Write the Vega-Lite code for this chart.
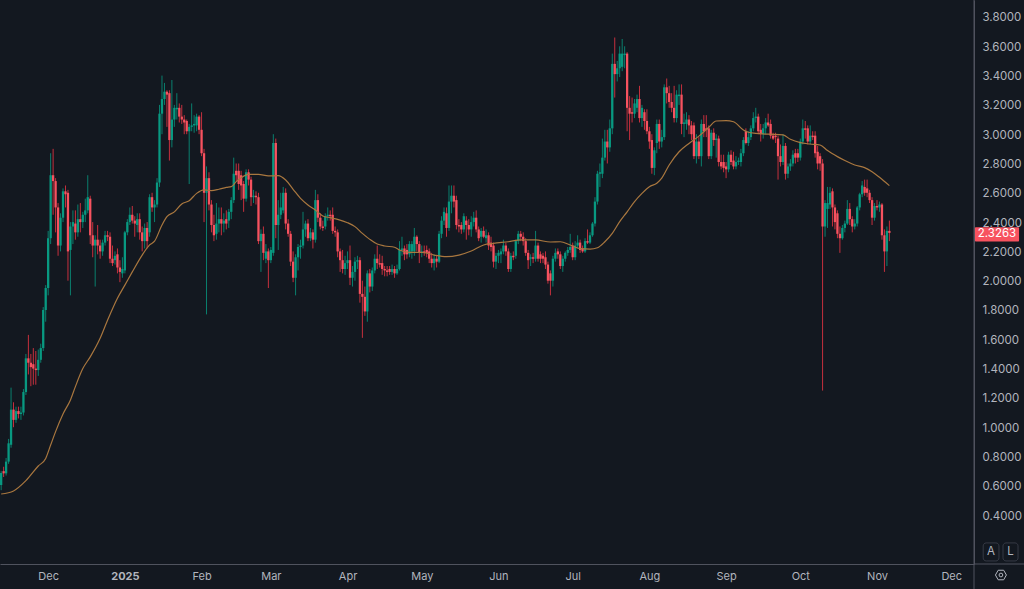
{
  "$schema": "https://vega.github.io/schema/vega-lite/v6.json",
  "width": 974,
  "height": 564,
  "padding": {"left": 0, "top": 0, "right": 50, "bottom": 25},
  "autosize": "none",
  "background": "#131820",
  "config": {"view": {"stroke": null}, "font": "Inter"},
  "datasets": {
    "candles": [
      {"d":"2024-11-12","o":0.605,"h":0.70,"l":0.57,"c":0.687},
      {"d":"2024-11-13","o":0.70,"h":0.73,"l":0.66,"c":0.685},
      {"d":"2024-11-14","o":0.685,"h":0.79,"l":0.67,"c":0.765},
      {"d":"2024-11-15","o":0.765,"h":0.92,"l":0.75,"c":0.89},
      {"d":"2024-11-16","o":0.88,"h":1.27,"l":0.86,"c":1.12},
      {"d":"2024-11-17","o":1.12,"h":1.17,"l":1.0,"c":1.05},
      {"d":"2024-11-18","o":1.05,"h":1.14,"l":1.03,"c":1.11},
      {"d":"2024-11-19","o":1.11,"h":1.14,"l":1.06,"c":1.09},
      {"d":"2024-11-20","o":1.09,"h":1.14,"l":1.05,"c":1.10},
      {"d":"2024-11-21","o":1.10,"h":1.26,"l":1.08,"c":1.24},
      {"d":"2024-11-22","o":1.24,"h":1.50,"l":1.22,"c":1.47},
      {"d":"2024-11-23","o":1.47,"h":1.63,"l":1.36,"c":1.44},
      {"d":"2024-11-24","o":1.44,"h":1.50,"l":1.28,"c":1.41},
      {"d":"2024-11-25","o":1.43,"h":1.54,"l":1.29,"c":1.40},
      {"d":"2024-11-26","o":1.40,"h":1.52,"l":1.29,"c":1.39},
      {"d":"2024-11-27","o":1.39,"h":1.53,"l":1.35,"c":1.46},
      {"d":"2024-11-28","o":1.46,"h":1.57,"l":1.44,"c":1.54},
      {"d":"2024-11-29","o":1.54,"h":1.82,"l":1.52,"c":1.80},
      {"d":"2024-11-30","o":1.80,"h":1.97,"l":1.72,"c":1.95},
      {"d":"2024-12-01","o":1.95,"h":2.34,"l":1.90,"c":2.29},
      {"d":"2024-12-02","o":2.29,"h":2.87,"l":2.25,"c":2.72},
      {"d":"2024-12-03","o":2.72,"h":2.90,"l":2.45,"c":2.68},
      {"d":"2024-12-04","o":2.68,"h":2.70,"l":2.33,"c":2.50},
      {"d":"2024-12-05","o":2.50,"h":2.53,"l":2.17,"c":2.24},
      {"d":"2024-12-06","o":2.24,"h":2.46,"l":2.2,"c":2.43},
      {"d":"2024-12-07","o":2.43,"h":2.63,"l":2.40,"c":2.61},
      {"d":"2024-12-08","o":2.61,"h":2.65,"l":2.5,"c":2.59},
      {"d":"2024-12-09","o":2.60,"h":2.62,"l":2.0,"c":2.20},
      {"d":"2024-12-10","o":2.21,"h":2.40,"l":1.90,"c":2.37},
      {"d":"2024-12-11","o":2.37,"h":2.48,"l":2.25,"c":2.40},
      {"d":"2024-12-12","o":2.39,"h":2.48,"l":2.28,"c":2.33},
      {"d":"2024-12-13","o":2.33,"h":2.52,"l":2.30,"c":2.42},
      {"d":"2024-12-14","o":2.42,"h":2.53,"l":2.33,"c":2.40},
      {"d":"2024-12-15","o":2.40,"h":2.47,"l":2.36,"c":2.45},
      {"d":"2024-12-16","o":2.45,"h":2.56,"l":2.40,"c":2.48},
      {"d":"2024-12-17","o":2.48,"h":2.72,"l":2.46,"c":2.57},
      {"d":"2024-12-18","o":2.56,"h":2.58,"l":2.25,"c":2.31},
      {"d":"2024-12-19","o":2.31,"h":2.40,"l":2.16,"c":2.24},
      {"d":"2024-12-20","o":2.24,"h":2.31,"l":1.96,"c":2.28},
      {"d":"2024-12-21","o":2.28,"h":2.38,"l":2.18,"c":2.24},
      {"d":"2024-12-22","o":2.24,"h":2.28,"l":2.15,"c":2.20},
      {"d":"2024-12-23","o":2.20,"h":2.28,"l":2.17,"c":2.26},
      {"d":"2024-12-24","o":2.26,"h":2.34,"l":2.24,"c":2.31},
      {"d":"2024-12-25","o":2.31,"h":2.34,"l":2.27,"c":2.30},
      {"d":"2024-12-26","o":2.30,"h":2.33,"l":2.12,"c":2.15},
      {"d":"2024-12-27","o":2.15,"h":2.24,"l":2.10,"c":2.12},
      {"d":"2024-12-28","o":2.14,"h":2.20,"l":2.11,"c":2.17},
      {"d":"2024-12-29","o":2.18,"h":2.22,"l":2.05,"c":2.09},
      {"d":"2024-12-30","o":2.09,"h":2.14,"l":1.99,"c":2.06},
      {"d":"2024-12-31","o":2.05,"h":2.16,"l":2.02,"c":2.08},
      {"d":"2025-01-01","o":2.07,"h":2.34,"l":2.05,"c":2.33},
      {"d":"2025-01-02","o":2.33,"h":2.42,"l":2.31,"c":2.40},
      {"d":"2025-01-03","o":2.40,"h":2.50,"l":2.38,"c":2.45},
      {"d":"2025-01-04","o":2.45,"h":2.51,"l":2.39,"c":2.41},
      {"d":"2025-01-05","o":2.41,"h":2.44,"l":2.30,"c":2.39},
      {"d":"2025-01-06","o":2.38,"h":2.46,"l":2.33,"c":2.42},
      {"d":"2025-01-07","o":2.42,"h":2.46,"l":2.28,"c":2.33},
      {"d":"2025-01-08","o":2.33,"h":2.37,"l":2.20,"c":2.27},
      {"d":"2025-01-09","o":2.27,"h":2.39,"l":2.22,"c":2.36},
      {"d":"2025-01-10","o":2.36,"h":2.40,"l":2.22,"c":2.27},
      {"d":"2025-01-11","o":2.33,"h":2.59,"l":2.30,"c":2.57},
      {"d":"2025-01-12","o":2.57,"h":2.60,"l":2.47,"c":2.50},
      {"d":"2025-01-13","o":2.50,"h":2.55,"l":2.40,"c":2.52},
      {"d":"2025-01-14","o":2.52,"h":2.70,"l":2.50,"c":2.67},
      {"d":"2025-01-15","o":2.67,"h":3.2,"l":2.64,"c":3.14},
      {"d":"2025-01-16","o":3.14,"h":3.40,"l":3.0,"c":3.24},
      {"d":"2025-01-17","o":3.24,"h":3.35,"l":3.2,"c":3.29},
      {"d":"2025-01-18","o":3.29,"h":3.30,"l":3.05,"c":3.27},
      {"d":"2025-01-19","o":3.28,"h":3.30,"l":2.82,"c":2.96},
      {"d":"2025-01-20","o":2.96,"h":3.37,"l":2.91,"c":3.10},
      {"d":"2025-01-21","o":3.10,"h":3.20,"l":3.05,"c":3.18},
      {"d":"2025-01-22","o":3.17,"h":3.28,"l":3.1,"c":3.18},
      {"d":"2025-01-23","o":3.18,"h":3.21,"l":3.08,"c":3.12},
      {"d":"2025-01-24","o":3.12,"h":3.2,"l":3.07,"c":3.10},
      {"d":"2025-01-25","o":3.10,"h":3.13,"l":3.0,"c":3.08},
      {"d":"2025-01-26","o":3.09,"h":3.10,"l":3.0,"c":3.02},
      {"d":"2025-01-27","o":3.02,"h":3.07,"l":2.66,"c":3.05},
      {"d":"2025-01-28","o":3.05,"h":3.21,"l":3.02,"c":3.06},
      {"d":"2025-01-29","o":3.06,"h":3.13,"l":3.01,"c":3.07},
      {"d":"2025-01-30","o":3.06,"h":3.14,"l":3.02,"c":3.12},
      {"d":"2025-01-31","o":3.12,"h":3.13,"l":3.0,"c":3.03},
      {"d":"2025-02-01","o":3.03,"h":3.15,"l":2.85,"c":2.87},
      {"d":"2025-02-02","o":2.87,"h":2.90,"l":2.40,"c":2.60},
      {"d":"2025-02-03","o":2.60,"h":2.78,"l":1.77,"c":2.70},
      {"d":"2025-02-04","o":2.70,"h":2.74,"l":2.48,"c":2.52},
      {"d":"2025-02-05","o":2.52,"h":2.55,"l":2.33,"c":2.38},
      {"d":"2025-02-06","o":2.38,"h":2.45,"l":2.27,"c":2.31},
      {"d":"2025-02-07","o":2.32,"h":2.53,"l":2.28,"c":2.39},
      {"d":"2025-02-08","o":2.39,"h":2.50,"l":2.33,"c":2.42},
      {"d":"2025-02-09","o":2.42,"h":2.50,"l":2.31,"c":2.39},
      {"d":"2025-02-10","o":2.39,"h":2.46,"l":2.33,"c":2.41},
      {"d":"2025-02-11","o":2.42,"h":2.48,"l":2.35,"c":2.39},
      {"d":"2025-02-12","o":2.41,"h":2.49,"l":2.36,"c":2.47},
      {"d":"2025-02-13","o":2.47,"h":2.57,"l":2.42,"c":2.55},
      {"d":"2025-02-14","o":2.55,"h":2.84,"l":2.53,"c":2.73},
      {"d":"2025-02-15","o":2.75,"h":2.80,"l":2.68,"c":2.72},
      {"d":"2025-02-16","o":2.75,"h":2.80,"l":2.62,"c":2.66},
      {"d":"2025-02-17","o":2.72,"h":2.75,"l":2.55,"c":2.65},
      {"d":"2025-02-18","o":2.66,"h":2.68,"l":2.47,"c":2.56},
      {"d":"2025-02-19","o":2.56,"h":2.76,"l":2.54,"c":2.74},
      {"d":"2025-02-20","o":2.74,"h":2.76,"l":2.65,"c":2.69},
      {"d":"2025-02-21","o":2.69,"h":2.71,"l":2.51,"c":2.57},
      {"d":"2025-02-22","o":2.57,"h":2.62,"l":2.53,"c":2.58},
      {"d":"2025-02-23","o":2.58,"h":2.61,"l":2.52,"c":2.57},
      {"d":"2025-02-24","o":2.57,"h":2.60,"l":2.25,"c":2.27},
      {"d":"2025-02-25","o":2.27,"h":2.35,"l":2.06,"c":2.32},
      {"d":"2025-02-26","o":2.32,"h":2.37,"l":2.14,"c":2.19},
      {"d":"2025-02-27","o":2.15,"h":2.25,"l":2.12,"c":2.20},
      {"d":"2025-02-28","o":2.20,"h":2.22,"l":1.95,"c":2.14},
      {"d":"2025-03-01","o":2.14,"h":2.23,"l":2.12,"c":2.21},
      {"d":"2025-03-02","o":2.19,"h":3.0,"l":2.17,"c":2.94},
      {"d":"2025-03-03","o":2.94,"h":2.97,"l":2.29,"c":2.38},
      {"d":"2025-03-04","o":2.38,"h":2.55,"l":2.21,"c":2.45},
      {"d":"2025-03-05","o":2.45,"h":2.60,"l":2.42,"c":2.50},
      {"d":"2025-03-06","o":2.48,"h":2.64,"l":2.46,"c":2.60},
      {"d":"2025-03-07","o":2.60,"h":2.63,"l":2.35,"c":2.39},
      {"d":"2025-03-08","o":2.39,"h":2.42,"l":2.30,"c":2.32},
      {"d":"2025-03-09","o":2.32,"h":2.34,"l":2.10,"c":2.13},
      {"d":"2025-03-10","o":2.13,"h":2.2,"l":1.99,"c":2.02},
      {"d":"2025-03-11","o":2.02,"h":2.18,"l":1.90,"c":2.16},
      {"d":"2025-03-12","o":2.16,"h":2.25,"l":2.07,"c":2.23},
      {"d":"2025-03-13","o":2.23,"h":2.28,"l":2.15,"c":2.24},
      {"d":"2025-03-14","o":2.24,"h":2.47,"l":2.22,"c":2.35},
      {"d":"2025-03-15","o":2.35,"h":2.41,"l":2.30,"c":2.39},
      {"d":"2025-03-16","o":2.39,"h":2.42,"l":2.27,"c":2.29},
      {"d":"2025-03-17","o":2.29,"h":2.36,"l":2.27,"c":2.33},
      {"d":"2025-03-18","o":2.33,"h":2.35,"l":2.22,"c":2.28},
      {"d":"2025-03-19","o":2.28,"h":2.62,"l":2.26,"c":2.55},
      {"d":"2025-03-20","o":2.55,"h":2.59,"l":2.40,"c":2.43},
      {"d":"2025-03-21","o":2.43,"h":2.46,"l":2.35,"c":2.37},
      {"d":"2025-03-22","o":2.37,"h":2.41,"l":2.34,"c":2.36},
      {"d":"2025-03-23","o":2.37,"h":2.46,"l":2.35,"c":2.44},
      {"d":"2025-03-24","o":2.44,"h":2.50,"l":2.41,"c":2.45},
      {"d":"2025-03-25","o":2.45,"h":2.48,"l":2.41,"c":2.44},
      {"d":"2025-03-26","o":2.45,"h":2.50,"l":2.32,"c":2.34},
      {"d":"2025-03-27","o":2.34,"h":2.37,"l":2.30,"c":2.33},
      {"d":"2025-03-28","o":2.33,"h":2.35,"l":2.16,"c":2.20},
      {"d":"2025-03-29","o":2.20,"h":2.22,"l":2.06,"c":2.14},
      {"d":"2025-03-30","o":2.14,"h":2.21,"l":2.05,"c":2.08},
      {"d":"2025-03-31","o":2.08,"h":2.17,"l":2.04,"c":2.12},
      {"d":"2025-04-01","o":2.12,"h":2.2,"l":2.08,"c":2.14},
      {"d":"2025-04-02","o":2.14,"h":2.24,"l":1.97,"c":2.02},
      {"d":"2025-04-03","o":2.02,"h":2.10,"l":1.96,"c":2.06},
      {"d":"2025-04-04","o":2.06,"h":2.16,"l":2.0,"c":2.13},
      {"d":"2025-04-05","o":2.13,"h":2.17,"l":2.08,"c":2.14},
      {"d":"2025-04-06","o":2.14,"h":2.16,"l":1.85,"c":1.91},
      {"d":"2025-04-07","o":1.91,"h":2.0,"l":1.61,"c":1.89},
      {"d":"2025-04-08","o":1.89,"h":1.96,"l":1.76,"c":1.79},
      {"d":"2025-04-09","o":1.79,"h":2.07,"l":1.72,"c":2.05},
      {"d":"2025-04-10","o":2.05,"h":2.08,"l":1.92,"c":1.96},
      {"d":"2025-04-11","o":1.96,"h":2.09,"l":1.93,"c":2.07},
      {"d":"2025-04-12","o":2.07,"h":2.18,"l":2.05,"c":2.15},
      {"d":"2025-04-13","o":2.15,"h":2.24,"l":2.08,"c":2.12},
      {"d":"2025-04-14","o":2.12,"h":2.18,"l":2.09,"c":2.11},
      {"d":"2025-04-15","o":2.12,"h":2.17,"l":2.04,"c":2.08},
      {"d":"2025-04-16","o":2.08,"h":2.10,"l":2.03,"c":2.07},
      {"d":"2025-04-17","o":2.07,"h":2.10,"l":2.03,"c":2.06},
      {"d":"2025-04-18","o":2.08,"h":2.10,"l":2.04,"c":2.06},
      {"d":"2025-04-19","o":2.06,"h":2.11,"l":2.04,"c":2.08},
      {"d":"2025-04-20","o":2.08,"h":2.10,"l":2.02,"c":2.05},
      {"d":"2025-04-21","o":2.05,"h":2.11,"l":2.04,"c":2.08},
      {"d":"2025-04-22","o":2.08,"h":2.27,"l":2.07,"c":2.21},
      {"d":"2025-04-23","o":2.21,"h":2.30,"l":2.17,"c":2.22},
      {"d":"2025-04-24","o":2.22,"h":2.24,"l":2.14,"c":2.18},
      {"d":"2025-04-25","o":2.21,"h":2.25,"l":2.15,"c":2.18},
      {"d":"2025-04-26","o":2.18,"h":2.27,"l":2.16,"c":2.25},
      {"d":"2025-04-27","o":2.20,"h":2.27,"l":2.15,"c":2.25},
      {"d":"2025-04-28","o":2.20,"h":2.36,"l":2.17,"c":2.30},
      {"d":"2025-04-29","o":2.30,"h":2.31,"l":2.20,"c":2.25},
      {"d":"2025-04-30","o":2.25,"h":2.27,"l":2.12,"c":2.19},
      {"d":"2025-05-01","o":2.19,"h":2.24,"l":2.16,"c":2.20},
      {"d":"2025-05-02","o":2.20,"h":2.24,"l":2.17,"c":2.19},
      {"d":"2025-05-03","o":2.21,"h":2.24,"l":2.16,"c":2.19},
      {"d":"2025-05-04","o":2.20,"h":2.22,"l":2.12,"c":2.15},
      {"d":"2025-05-05","o":2.15,"h":2.19,"l":2.09,"c":2.12},
      {"d":"2025-05-06","o":2.12,"h":2.18,"l":2.07,"c":2.15},
      {"d":"2025-05-07","o":2.15,"h":2.17,"l":2.09,"c":2.13},
      {"d":"2025-05-08","o":2.13,"h":2.34,"l":2.12,"c":2.32},
      {"d":"2025-05-09","o":2.32,"h":2.44,"l":2.29,"c":2.41},
      {"d":"2025-05-10","o":2.41,"h":2.50,"l":2.38,"c":2.47},
      {"d":"2025-05-11","o":2.46,"h":2.50,"l":2.30,"c":2.36},
      {"d":"2025-05-12","o":2.36,"h":2.65,"l":2.34,"c":2.54},
      {"d":"2025-05-13","o":2.54,"h":2.65,"l":2.46,"c":2.58},
      {"d":"2025-05-14","o":2.58,"h":2.65,"l":2.50,"c":2.54},
      {"d":"2025-05-15","o":2.55,"h":2.58,"l":2.35,"c":2.38},
      {"d":"2025-05-16","o":2.38,"h":2.42,"l":2.33,"c":2.37},
      {"d":"2025-05-17","o":2.38,"h":2.40,"l":2.32,"c":2.35},
      {"d":"2025-05-18","o":2.35,"h":2.46,"l":2.33,"c":2.44},
      {"d":"2025-05-19","o":2.41,"h":2.44,"l":2.28,"c":2.38},
      {"d":"2025-05-20","o":2.38,"h":2.42,"l":2.31,"c":2.35},
      {"d":"2025-05-21","o":2.35,"h":2.44,"l":2.30,"c":2.40},
      {"d":"2025-05-22","o":2.40,"h":2.47,"l":2.37,"c":2.43},
      {"d":"2025-05-23","o":2.43,"h":2.48,"l":2.33,"c":2.35},
      {"d":"2025-05-24","o":2.35,"h":2.37,"l":2.27,"c":2.29},
      {"d":"2025-05-25","o":2.30,"h":2.36,"l":2.26,"c":2.34},
      {"d":"2025-05-26","o":2.34,"h":2.37,"l":2.29,"c":2.30},
      {"d":"2025-05-27","o":2.29,"h":2.35,"l":2.26,"c":2.31},
      {"d":"2025-05-28","o":2.31,"h":2.33,"l":2.21,"c":2.24},
      {"d":"2025-05-29","o":2.26,"h":2.30,"l":2.20,"c":2.23},
      {"d":"2025-05-30","o":2.24,"h":2.26,"l":2.09,"c":2.13},
      {"d":"2025-05-31","o":2.13,"h":2.19,"l":2.08,"c":2.17},
      {"d":"2025-06-01","o":2.17,"h":2.21,"l":2.12,"c":2.19},
      {"d":"2025-06-02","o":2.18,"h":2.22,"l":2.12,"c":2.20},
      {"d":"2025-06-03","o":2.20,"h":2.28,"l":2.18,"c":2.24},
      {"d":"2025-06-04","o":2.24,"h":2.26,"l":2.17,"c":2.20},
      {"d":"2025-06-05","o":2.20,"h":2.22,"l":2.06,"c":2.08},
      {"d":"2025-06-06","o":2.08,"h":2.19,"l":2.06,"c":2.17},
      {"d":"2025-06-07","o":2.17,"h":2.20,"l":2.14,"c":2.16},
      {"d":"2025-06-08","o":2.17,"h":2.28,"l":2.15,"c":2.27},
      {"d":"2025-06-09","o":2.27,"h":2.34,"l":2.25,"c":2.32},
      {"d":"2025-06-10","o":2.32,"h":2.34,"l":2.27,"c":2.30},
      {"d":"2025-06-11","o":2.30,"h":2.33,"l":2.24,"c":2.27},
      {"d":"2025-06-12","o":2.27,"h":2.29,"l":2.17,"c":2.19},
      {"d":"2025-06-13","o":2.19,"h":2.21,"l":2.08,"c":2.14},
      {"d":"2025-06-14","o":2.15,"h":2.18,"l":2.10,"c":2.16},
      {"d":"2025-06-15","o":2.16,"h":2.19,"l":2.12,"c":2.15},
      {"d":"2025-06-16","o":2.15,"h":2.34,"l":2.13,"c":2.24},
      {"d":"2025-06-17","o":2.24,"h":2.26,"l":2.13,"c":2.15},
      {"d":"2025-06-18","o":2.18,"h":2.20,"l":2.12,"c":2.15},
      {"d":"2025-06-19","o":2.17,"h":2.19,"l":2.12,"c":2.15},
      {"d":"2025-06-20","o":2.16,"h":2.20,"l":2.08,"c":2.11},
      {"d":"2025-06-21","o":2.11,"h":2.13,"l":1.98,"c":2.0},
      {"d":"2025-06-22","o":2.05,"h":2.07,"l":1.90,"c":2.0},
      {"d":"2025-06-23","o":2.0,"h":2.17,"l":1.96,"c":2.15},
      {"d":"2025-06-24","o":2.15,"h":2.22,"l":2.13,"c":2.19},
      {"d":"2025-06-25","o":2.20,"h":2.22,"l":2.15,"c":2.18},
      {"d":"2025-06-26","o":2.18,"h":2.20,"l":2.08,"c":2.10},
      {"d":"2025-06-27","o":2.10,"h":2.17,"l":2.06,"c":2.15},
      {"d":"2025-06-28","o":2.15,"h":2.20,"l":2.13,"c":2.19},
      {"d":"2025-06-29","o":2.19,"h":2.23,"l":2.17,"c":2.21},
      {"d":"2025-06-30","o":2.21,"h":2.32,"l":2.19,"c":2.23},
      {"d":"2025-07-01","o":2.24,"h":2.26,"l":2.14,"c":2.16},
      {"d":"2025-07-02","o":2.16,"h":2.27,"l":2.14,"c":2.24},
      {"d":"2025-07-03","o":2.24,"h":2.31,"l":2.22,"c":2.26},
      {"d":"2025-07-04","o":2.26,"h":2.28,"l":2.19,"c":2.21},
      {"d":"2025-07-05","o":2.22,"h":2.24,"l":2.19,"c":2.20},
      {"d":"2025-07-06","o":2.20,"h":2.29,"l":2.19,"c":2.27},
      {"d":"2025-07-07","o":2.27,"h":2.35,"l":2.25,"c":2.26},
      {"d":"2025-07-08","o":2.26,"h":2.33,"l":2.25,"c":2.31},
      {"d":"2025-07-09","o":2.31,"h":2.40,"l":2.30,"c":2.39},
      {"d":"2025-07-10","o":2.39,"h":2.57,"l":2.37,"c":2.54},
      {"d":"2025-07-11","o":2.54,"h":2.75,"l":2.52,"c":2.73},
      {"d":"2025-07-12","o":2.73,"h":2.80,"l":2.64,"c":2.74},
      {"d":"2025-07-13","o":2.73,"h":2.97,"l":2.70,"c":2.84},
      {"d":"2025-07-14","o":2.84,"h":3.03,"l":2.82,"c":2.95},
      {"d":"2025-07-15","o":2.95,"h":3.03,"l":2.80,"c":2.91},
      {"d":"2025-07-16","o":2.91,"h":3.10,"l":2.88,"c":3.04},
      {"d":"2025-07-17","o":3.04,"h":3.55,"l":3.0,"c":3.48},
      {"d":"2025-07-18","o":3.48,"h":3.66,"l":3.25,"c":3.41},
      {"d":"2025-07-19","o":3.41,"h":3.50,"l":3.36,"c":3.45},
      {"d":"2025-07-20","o":3.45,"h":3.60,"l":3.39,"c":3.55},
      {"d":"2025-07-21","o":3.46,"h":3.65,"l":3.43,"c":3.55},
      {"d":"2025-07-22","o":3.54,"h":3.60,"l":3.45,"c":3.55},
      {"d":"2025-07-23","o":3.55,"h":3.56,"l":3.02,"c":3.18},
      {"d":"2025-07-24","o":3.18,"h":3.26,"l":2.96,"c":3.14},
      {"d":"2025-07-25","o":3.15,"h":3.25,"l":3.08,"c":3.14},
      {"d":"2025-07-26","o":3.14,"h":3.24,"l":3.11,"c":3.21},
      {"d":"2025-07-27","o":3.18,"h":3.27,"l":3.15,"c":3.24},
      {"d":"2025-07-28","o":3.24,"h":3.33,"l":3.08,"c":3.11},
      {"d":"2025-07-29","o":3.11,"h":3.20,"l":3.05,"c":3.18},
      {"d":"2025-07-30","o":3.15,"h":3.17,"l":3.03,"c":3.09},
      {"d":"2025-07-31","o":3.09,"h":3.17,"l":3.0,"c":3.02},
      {"d":"2025-08-01","o":3.02,"h":3.05,"l":2.90,"c":2.95},
      {"d":"2025-08-02","o":2.96,"h":3.0,"l":2.73,"c":2.77},
      {"d":"2025-08-03","o":2.77,"h":2.91,"l":2.72,"c":2.89},
      {"d":"2025-08-04","o":2.94,"h":3.10,"l":2.87,"c":3.07},
      {"d":"2025-08-05","o":3.07,"h":3.10,"l":2.90,"c":2.95},
      {"d":"2025-08-06","o":2.95,"h":3.03,"l":2.91,"c":2.98},
      {"d":"2025-08-07","o":2.98,"h":3.34,"l":2.96,"c":3.32},
      {"d":"2025-08-08","o":3.32,"h":3.38,"l":3.21,"c":3.28},
      {"d":"2025-08-09","o":3.28,"h":3.33,"l":3.18,"c":3.22},
      {"d":"2025-08-10","o":3.22,"h":3.28,"l":3.15,"c":3.18},
      {"d":"2025-08-11","o":3.18,"h":3.33,"l":3.08,"c":3.11},
      {"d":"2025-08-12","o":3.11,"h":3.30,"l":3.08,"c":3.27},
      {"d":"2025-08-13","o":3.26,"h":3.34,"l":3.20,"c":3.27},
      {"d":"2025-08-14","o":3.27,"h":3.34,"l":3.0,"c":3.07},
      {"d":"2025-08-15","o":3.07,"h":3.14,"l":2.98,"c":3.08},
      {"d":"2025-08-16","o":3.07,"h":3.15,"l":3.03,"c":3.10},
      {"d":"2025-08-17","o":3.10,"h":3.13,"l":3.0,"c":3.06},
      {"d":"2025-08-18","o":3.06,"h":3.09,"l":2.96,"c":3.0},
      {"d":"2025-08-19","o":3.06,"h":3.08,"l":2.83,"c":2.85},
      {"d":"2025-08-20","o":2.85,"h":3.0,"l":2.80,"c":2.95},
      {"d":"2025-08-21","o":2.95,"h":2.98,"l":2.83,"c":2.85},
      {"d":"2025-08-22","o":2.85,"h":3.10,"l":2.78,"c":3.07},
      {"d":"2025-08-23","o":3.07,"h":3.13,"l":2.98,"c":3.02},
      {"d":"2025-08-24","o":3.04,"h":3.13,"l":2.98,"c":3.03},
      {"d":"2025-08-25","o":3.04,"h":3.06,"l":2.83,"c":2.85},
      {"d":"2025-08-26","o":2.85,"h":3.03,"l":2.83,"c":3.01},
      {"d":"2025-08-27","o":3.01,"h":3.04,"l":2.92,"c":2.96},
      {"d":"2025-08-28","o":2.96,"h":3.0,"l":2.84,"c":2.97},
      {"d":"2025-08-29","o":2.97,"h":2.99,"l":2.78,"c":2.81},
      {"d":"2025-08-30","o":2.81,"h":2.86,"l":2.76,"c":2.78},
      {"d":"2025-08-31","o":2.81,"h":2.86,"l":2.74,"c":2.77},
      {"d":"2025-09-01","o":2.78,"h":2.81,"l":2.70,"c":2.76},
      {"d":"2025-09-02","o":2.76,"h":2.88,"l":2.74,"c":2.86},
      {"d":"2025-09-03","o":2.86,"h":2.89,"l":2.79,"c":2.81},
      {"d":"2025-09-04","o":2.82,"h":2.88,"l":2.76,"c":2.78},
      {"d":"2025-09-05","o":2.78,"h":2.85,"l":2.76,"c":2.81},
      {"d":"2025-09-06","o":2.81,"h":2.84,"l":2.79,"c":2.82},
      {"d":"2025-09-07","o":2.81,"h":2.90,"l":2.78,"c":2.87},
      {"d":"2025-09-08","o":2.87,"h":2.98,"l":2.85,"c":2.96},
      {"d":"2025-09-09","o":3.02,"h":3.04,"l":2.93,"c":2.94},
      {"d":"2025-09-10","o":2.94,"h":3.02,"l":2.92,"c":2.98},
      {"d":"2025-09-11","o":2.98,"h":3.06,"l":2.96,"c":3.04},
      {"d":"2025-09-12","o":3.04,"h":3.15,"l":3.02,"c":3.11},
      {"d":"2025-09-13","o":3.11,"h":3.18,"l":3.08,"c":3.12},
      {"d":"2025-09-14","o":3.12,"h":3.14,"l":3.0,"c":3.02},
      {"d":"2025-09-15","o":3.03,"h":3.07,"l":2.95,"c":3.0},
      {"d":"2025-09-16","o":3.0,"h":3.07,"l":2.97,"c":3.04},
      {"d":"2025-09-17","o":3.04,"h":3.11,"l":3.0,"c":3.08},
      {"d":"2025-09-18","o":3.08,"h":3.14,"l":3.05,"c":3.06},
      {"d":"2025-09-19","o":3.07,"h":3.10,"l":2.97,"c":2.99},
      {"d":"2025-09-20","o":2.99,"h":3.01,"l":2.96,"c":2.97},
      {"d":"2025-09-21","o":2.99,"h":3.01,"l":2.94,"c":2.98},
      {"d":"2025-09-22","o":2.97,"h":2.99,"l":2.69,"c":2.85},
      {"d":"2025-09-23","o":2.85,"h":2.93,"l":2.78,"c":2.81},
      {"d":"2025-09-24","o":2.81,"h":3.0,"l":2.79,"c":2.92},
      {"d":"2025-09-25","o":2.92,"h":2.94,"l":2.69,"c":2.73},
      {"d":"2025-09-26","o":2.73,"h":2.80,"l":2.70,"c":2.78},
      {"d":"2025-09-27","o":2.78,"h":2.83,"l":2.75,"c":2.80},
      {"d":"2025-09-28","o":2.80,"h":2.89,"l":2.78,"c":2.86},
      {"d":"2025-09-29","o":2.87,"h":2.90,"l":2.80,"c":2.84},
      {"d":"2025-09-30","o":2.87,"h":2.90,"l":2.81,"c":2.84},
      {"d":"2025-10-01","o":2.84,"h":2.97,"l":2.82,"c":2.95},
      {"d":"2025-10-02","o":2.95,"h":3.10,"l":2.93,"c":3.04},
      {"d":"2025-10-03","o":3.04,"h":3.09,"l":2.97,"c":3.03},
      {"d":"2025-10-04","o":3.04,"h":3.06,"l":2.93,"c":2.95},
      {"d":"2025-10-05","o":2.95,"h":3.06,"l":2.93,"c":2.99},
      {"d":"2025-10-06","o":2.99,"h":3.02,"l":2.96,"c":2.98},
      {"d":"2025-10-07","o":2.99,"h":3.02,"l":2.84,"c":2.87},
      {"d":"2025-10-08","o":2.88,"h":2.92,"l":2.76,"c":2.80},
      {"d":"2025-10-09","o":2.85,"h":2.87,"l":2.75,"c":2.80},
      {"d":"2025-10-10","o":2.80,"h":2.83,"l":1.25,"c":2.37},
      {"d":"2025-10-11","o":2.37,"h":2.55,"l":2.30,"c":2.53},
      {"d":"2025-10-12","o":2.49,"h":2.64,"l":2.36,"c":2.53},
      {"d":"2025-10-13","o":2.52,"h":2.64,"l":2.49,"c":2.60},
      {"d":"2025-10-14","o":2.61,"h":2.63,"l":2.37,"c":2.50},
      {"d":"2025-10-15","o":2.50,"h":2.52,"l":2.35,"c":2.40},
      {"d":"2025-10-16","o":2.46,"h":2.48,"l":2.29,"c":2.32},
      {"d":"2025-10-17","o":2.32,"h":2.37,"l":2.19,"c":2.29},
      {"d":"2025-10-18","o":2.29,"h":2.38,"l":2.28,"c":2.36},
      {"d":"2025-10-19","o":2.36,"h":2.41,"l":2.33,"c":2.39},
      {"d":"2025-10-20","o":2.39,"h":2.55,"l":2.38,"c":2.49},
      {"d":"2025-10-21","o":2.49,"h":2.53,"l":2.38,"c":2.42},
      {"d":"2025-10-22","o":2.42,"h":2.44,"l":2.33,"c":2.37},
      {"d":"2025-10-23","o":2.37,"h":2.42,"l":2.35,"c":2.39},
      {"d":"2025-10-24","o":2.39,"h":2.51,"l":2.37,"c":2.50},
      {"d":"2025-10-25","o":2.50,"h":2.60,"l":2.48,"c":2.59},
      {"d":"2025-10-26","o":2.59,"h":2.68,"l":2.57,"c":2.65},
      {"d":"2025-10-27","o":2.64,"h":2.69,"l":2.58,"c":2.60},
      {"d":"2025-10-28","o":2.63,"h":2.69,"l":2.57,"c":2.60},
      {"d":"2025-10-29","o":2.60,"h":2.62,"l":2.53,"c":2.55},
      {"d":"2025-10-30","o":2.55,"h":2.57,"l":2.38,"c":2.43},
      {"d":"2025-10-31","o":2.43,"h":2.53,"l":2.41,"c":2.51},
      {"d":"2025-11-01","o":2.51,"h":2.55,"l":2.48,"c":2.50},
      {"d":"2025-11-02","o":2.50,"h":2.54,"l":2.47,"c":2.52},
      {"d":"2025-11-03","o":2.52,"h":2.53,"l":2.28,"c":2.31},
      {"d":"2025-11-04","o":2.31,"h":2.35,"l":2.06,"c":2.20},
      {"d":"2025-11-05","o":2.20,"h":2.37,"l":2.10,"c":2.34},
      {"d":"2025-11-06","o":2.34,"h":2.41,"l":2.27,"c":2.3263}
    ],
    "ma": [
      {"d":"2024-11-12","m":0.544},{"d":"2024-11-17","m":0.565},{"d":"2024-11-22","m":0.635},{"d":"2024-11-27","m":0.735},
      {"d":"2024-11-30","m":0.787},{"d":"2024-12-02","m":0.878},{"d":"2024-12-04","m":0.97},{"d":"2024-12-07","m":1.09},
      {"d":"2024-12-10","m":1.186},{"d":"2024-12-12","m":1.277},{"d":"2024-12-15","m":1.40},{"d":"2024-12-18","m":1.48},
      {"d":"2024-12-22","m":1.607},{"d":"2024-12-25","m":1.73},{"d":"2024-12-29","m":1.88},{"d":"2025-01-01","m":1.97},
      {"d":"2025-01-04","m":2.06},{"d":"2025-01-08","m":2.175},{"d":"2025-01-11","m":2.244},{"d":"2025-01-13","m":2.27},
      {"d":"2025-01-16","m":2.38},{"d":"2025-01-18","m":2.437},{"d":"2025-01-21","m":2.47},{"d":"2025-01-24","m":2.524},
      {"d":"2025-01-27","m":2.546},{"d":"2025-01-30","m":2.596},{"d":"2025-02-02","m":2.62},{"d":"2025-02-05","m":2.615},
      {"d":"2025-02-08","m":2.624},{"d":"2025-02-11","m":2.637},{"d":"2025-02-13","m":2.642},{"d":"2025-02-15","m":2.676},
      {"d":"2025-02-17","m":2.703},{"d":"2025-02-20","m":2.726},{"d":"2025-02-24","m":2.726},{"d":"2025-02-28","m":2.715},
      {"d":"2025-03-04","m":2.717},{"d":"2025-03-07","m":2.687},{"d":"2025-03-10","m":2.624},{"d":"2025-03-13","m":2.562},
      {"d":"2025-03-16","m":2.517},{"d":"2025-03-19","m":2.483},{"d":"2025-03-22","m":2.442},{"d":"2025-03-25","m":2.43},
      {"d":"2025-03-28","m":2.419},{"d":"2025-04-01","m":2.396},{"d":"2025-04-04","m":2.369},{"d":"2025-04-07","m":2.323},
      {"d":"2025-04-10","m":2.282},{"d":"2025-04-13","m":2.25},{"d":"2025-04-16","m":2.237},{"d":"2025-04-20","m":2.228},
      {"d":"2025-04-22","m":2.21},{"d":"2025-04-26","m":2.194},{"d":"2025-05-01","m":2.194},{"d":"2025-05-06","m":2.175},
      {"d":"2025-05-11","m":2.164},{"d":"2025-05-16","m":2.175},{"d":"2025-05-21","m":2.203},{"d":"2025-05-26","m":2.244},
      {"d":"2025-05-30","m":2.255},{"d":"2025-06-05","m":2.266},{"d":"2025-06-10","m":2.278},{"d":"2025-06-16","m":2.278},
      {"d":"2025-06-22","m":2.264},{"d":"2025-06-26","m":2.266},{"d":"2025-06-30","m":2.244},{"d":"2025-07-04","m":2.219},
      {"d":"2025-07-08","m":2.216},{"d":"2025-07-11","m":2.225},{"d":"2025-07-14","m":2.266},{"d":"2025-07-17","m":2.323},
      {"d":"2025-07-20","m":2.403},{"d":"2025-07-23","m":2.47},{"d":"2025-07-26","m":2.54},{"d":"2025-07-29","m":2.596},
      {"d":"2025-08-01","m":2.642},{"d":"2025-08-04","m":2.665},{"d":"2025-08-06","m":2.70},{"d":"2025-08-09","m":2.79},
      {"d":"2025-08-13","m":2.88},{"d":"2025-08-17","m":2.937},{"d":"2025-08-21","m":2.987},{"d":"2025-08-25","m":3.047},
      {"d":"2025-08-28","m":3.09},{"d":"2025-09-01","m":3.092},{"d":"2025-09-04","m":3.085},{"d":"2025-09-08","m":3.028},
      {"d":"2025-09-10","m":3.013},{"d":"2025-09-13","m":3.006},{"d":"2025-09-18","m":3.0},{"d":"2025-09-24","m":2.995},
      {"d":"2025-09-27","m":2.965},{"d":"2025-10-01","m":2.942},{"d":"2025-10-05","m":2.933},{"d":"2025-10-09","m":2.926},
      {"d":"2025-10-12","m":2.888},{"d":"2025-10-16","m":2.847},{"d":"2025-10-19","m":2.82},{"d":"2025-10-23","m":2.79},
      {"d":"2025-10-27","m":2.772},{"d":"2025-10-30","m":2.744},{"d":"2025-11-02","m":2.706},{"d":"2025-11-06","m":2.649}
    ]
  },
  "data": {"name": "candles"},
  "encoding": {
    "x": {
      "field": "d",
      "type": "temporal",
      "scale": {"type": "utc", "domain": ["2024-11-11T12:45:00Z", "2025-12-10T04:50:00Z"], "padding": 0},
      "axis": {
        "title": null,
        "orient": "bottom",
        "values": ["2024-12-01", "2025-01-01", "2025-02-01", "2025-03-01", "2025-04-01", "2025-05-01", "2025-06-01", "2025-07-01", "2025-08-01", "2025-09-01", "2025-10-01", "2025-11-01", "2025-12-01"],
        "labelExpr": "utcmonth(datum.value) == 0 ? utcFormat(datum.value, '%Y') : utcFormat(datum.value, '%b')",
        "labelFontWeight": {"condition": {"test": "utcmonth(datum.value) == 0", "value": "bold"}, "value": "normal"},
        "labelColor": "#b2b5be",
        "labelFont": "Inter",
        "labelFontSize": 11,
        "labelPadding": 6,
        "labelFlush": false,
        "labelOverlap": false,
        "ticks": false,
        "grid": false,
        "domainColor": "#50535e"
      }
    },
    "y": {
      "type": "quantitative",
      "scale": {"domain": [0.0662, 3.916], "nice": false, "zero": false},
      "axis": {
        "title": null,
        "orient": "right",
        "values": [0.4, 0.6, 0.8, 1.0, 1.2, 1.4, 1.6, 1.8, 2.0, 2.2, 2.4, 2.6, 2.8, 3.0, 3.2, 3.4, 3.6, 3.8],
        "format": ".4f",
        "labelColor": "#b2b5be",
        "labelFont": "Inter",
        "labelFontSize": 11.5,
        "labelPadding": 8,
        "labelOffset": 1,
        "labelOverlap": false,
        "ticks": false,
        "grid": false,
        "domainColor": "#50535e"
      }
    }
  },
  "layer": [
    {
      "mark": {"type": "rule", "strokeWidth": 1, "opacity": 0.8},
      "encoding": {
        "y": {"field": "l"},
        "y2": {"field": "h"},
        "color": {"condition": {"test": "datum.c >= datum.o", "value": "#089981"}, "value": "#f23645"}
      }
    },
    {
      "mark": {"type": "bar", "width": 2.3},
      "encoding": {
        "y": {"field": "o"},
        "y2": {"field": "c"},
        "color": {"condition": {"test": "datum.c >= datum.o", "value": "#089981"}, "value": "#f7525f"}
      }
    },
    {
      "data": {"name": "ma"},
      "mark": {"type": "line", "color": "#a9773f", "strokeWidth": 1.2, "interpolate": "monotone"},
      "encoding": {"y": {"field": "m"}}
    },
    {
      "data": {"values": [{"d": "2025-12-10T04:50:00Z", "top": 3.916, "bottom": -0.104}]},
      "mark": {"type": "rule", "color": "#50535e", "strokeWidth": 1},
      "encoding": {"y": {"field": "top"}, "y2": {"field": "bottom"}}
    },
    {
      "data": {
        "values": [{"d": "2025-12-10T04:50:00Z", "end": "2025-12-30T10:00:00Z", "p": 0.0662}],
        "format": {"parse": {"end": "date"}}
      },
      "mark": {"type": "rule", "color": "#50535e", "strokeWidth": 1},
      "encoding": {"x2": {"field": "end"}, "y": {"field": "p"}}
    },
    {
      "data": {
        "values": [{"d": "2025-12-10T14:00:00Z", "end": "2025-12-28T10:00:00Z", "lo": 2.268, "hi": 2.365}],
        "format": {"parse": {"end": "date"}}
      },
      "mark": {"type": "rect", "color": "#f7525f", "cornerRadius": 1},
      "encoding": {"x2": {"field": "end"}, "y": {"field": "hi"}, "y2": {"field": "lo"}}
    },
    {
      "data": {"values": [{"d": "2025-12-19T12:00:00Z", "price": 2.3263}]},
      "mark": {"type": "text", "color": "#ffffff", "font": "Inter", "fontSize": 11.5, "align": "center", "baseline": "middle", "dy": 1.5},
      "encoding": {"y": {"field": "price"}, "text": {"field": "price", "format": ".4f"}}
    },
    {
      "data": {
        "values": [
          {"d": "2025-12-13T22:00:00Z", "end": "2025-12-20T07:00:00Z", "lo": 0.087, "hi": 0.21},
          {"d": "2025-12-21T22:00:00Z", "end": "2025-12-28T00:00:00Z", "lo": 0.087, "hi": 0.21}
        ],
        "format": {"parse": {"end": "date"}}
      },
      "mark": {"type": "rect", "fill": "#131820", "stroke": "#363a45", "strokeWidth": 1, "cornerRadius": 3},
      "encoding": {"x2": {"field": "end"}, "y": {"field": "hi"}, "y2": {"field": "lo"}}
    },
    {
      "data": {
        "values": [
          {"d": "2025-12-17T02:00:00Z", "p": 0.148, "label": "A"},
          {"d": "2025-12-25T00:00:00Z", "p": 0.148, "label": "L"}
        ]
      },
      "mark": {"type": "text", "color": "#b2b5be", "font": "Inter", "fontSize": 11.5, "align": "center", "baseline": "middle"},
      "encoding": {"y": {"field": "p"}, "text": {"field": "label"}}
    },
    {
      "data": {"values": [{"d": "2025-12-21T02:00:00Z", "p": -0.009}]},
      "mark": {"type": "point", "shape": "M -1 0 L -0.5 -0.87 L 0.5 -0.87 L 1 0 L 0.5 0.87 L -0.5 0.87 Z", "size": 120, "filled": false, "color": "#b2b5be", "strokeWidth": 1, "opacity": 1},
      "encoding": {"y": {"field": "p"}}
    },
    {
      "data": {"values": [{"d": "2025-12-21T02:00:00Z", "p": -0.009}]},
      "mark": {"type": "point", "shape": "circle", "size": 14, "filled": false, "color": "#b2b5be", "strokeWidth": 1, "opacity": 1},
      "encoding": {"y": {"field": "p"}}
    }
  ]
}
